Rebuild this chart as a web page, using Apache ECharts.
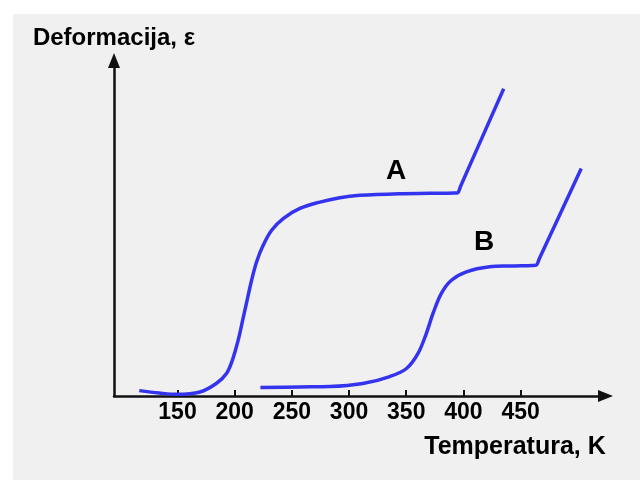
<!DOCTYPE html>
<html>
<head>
<meta charset="utf-8">
<script src="https://cdn.jsdelivr.net/npm/echarts@6/dist/echarts.min.js"></script>
<style>
html,body{margin:0;padding:0;background:#fff;}
#chart{width:640px;height:480px;}
</style>
</head>
<body>
<div id="chart"></div>
<script>
// Temperature tick labels (K)
const temperatureTicks = [150, 200, 250, 300, 350, 400, 450];

// Curve A: temperature (K) and deformation (arbitrary units)
const curveA_T   = [116.6, 134.0, 149.3, 169.7, 184.2, 193.0, 198.0, 203.1, 207.0, 210.9, 214.8, 219.2, 224.9, 232.3, 242.4, 257.0, 274.5, 291.9, 309.4, 344.3, 370.5, 392.4, 395.0, 397.6, 435.2];
const curveA_eps = [0.16, 0.09, 0.05, 0.12, 0.38, 0.68, 1.07, 1.67, 2.26, 2.86, 3.45, 4.00, 4.49, 4.94, 5.29, 5.59, 5.78, 5.91, 5.98, 6.03, 6.04, 6.05, 6.06, 6.26, 9.16];

// Curve B
const curveB_T   = [222.5, 257.0, 283.2, 312.0, 335.6, 350.2, 360.3, 367.6, 373.4, 380.7, 389.5, 402.6, 422.9, 440.4, 460.5, 463.7, 466.3, 503.0];
const curveB_eps = [0.25, 0.27, 0.28, 0.37, 0.58, 0.82, 1.27, 1.87, 2.46, 3.06, 3.45, 3.70, 3.85, 3.875, 3.89, 3.90, 4.09, 6.78];

const curveLabels = ['A', 'B'];

const FONT = "'Liberation Sans', Arial, sans-serif";
const BLUE = '#3434ee';

function pairs(xs, ys) { return xs.map((x, i) => [x, ys[i]]); }

const chart = echarts.init(document.getElementById('chart'), null, {renderer: 'canvas'});
chart.setOption({
  backgroundColor: '#ffffff',
  animation: false,
  graphic: [
    { type: 'rect', z: -100, silent: true, shape: {x: 13, y: 14, width: 627, height: 466}, style: {fill: '#f0f0f0'} },
    { type: 'text', x: 515, y: 447, style: {text: 'Temperatura, K', font: 'bold 25px ' + FONT, fill: '#000', align: 'center', verticalAlign: 'middle'} },
    { type: 'text', x: 396, y: 171, style: {text: curveLabels[0], font: 'bold 28px ' + FONT, fill: '#000', align: 'center', verticalAlign: 'middle'} },
    { type: 'text', x: 484, y: 242, style: {text: curveLabels[1], font: 'bold 28px ' + FONT, fill: '#000', align: 'center', verticalAlign: 'middle'} }
  ],
  grid: {left: 114, right: 34.5, top: 60.5, bottom: 84, containLabel: false},
  xAxis: {
    type: 'value',
    min: 94.5,
    max: 524.2,
    splitLine: {show: false},
    axisLine: {show: true, lineStyle: {color: '#111', width: 2.5}, symbol: ['none', 'triangle'], symbolSize: [12, 15]},
    axisTick: {show: true, inside: true, length: 6, lineStyle: {color: '#111', width: 2}, customValues: temperatureTicks},
    axisLabel: {show: true, margin: 5, color: '#000', fontFamily: FONT, fontWeight: 'bold', fontSize: 23, lineHeight: 23, customValues: temperatureTicks, formatter: v => String(v)}
  },
  yAxis: {
    type: 'value',
    min: 0,
    max: 10,
    name: 'Deformacija, ε',
    nameLocation: 'end',
    nameGap: 10,
    nameTextStyle: {color: '#000', fontFamily: FONT, fontWeight: 'bold', fontSize: 24, lineHeight: 24},
    splitLine: {show: false},
    axisLine: {show: true, lineStyle: {color: '#111', width: 2.5}, symbol: ['none', 'triangle'], symbolSize: [12, 15]},
    axisTick: {show: false},
    axisLabel: {show: false}
  },
  series: [
    { name: curveLabels[0], type: 'line', data: pairs(curveA_T, curveA_eps), smooth: 0.35, showSymbol: false, symbol: 'none', lineStyle: {color: BLUE, width: 3.5}, z: 3 },
    { name: curveLabels[1], type: 'line', data: pairs(curveB_T, curveB_eps), smooth: 0.35, showSymbol: false, symbol: 'none', lineStyle: {color: BLUE, width: 3.5}, z: 3 }
  ]
});
</script>
</body>
</html>
